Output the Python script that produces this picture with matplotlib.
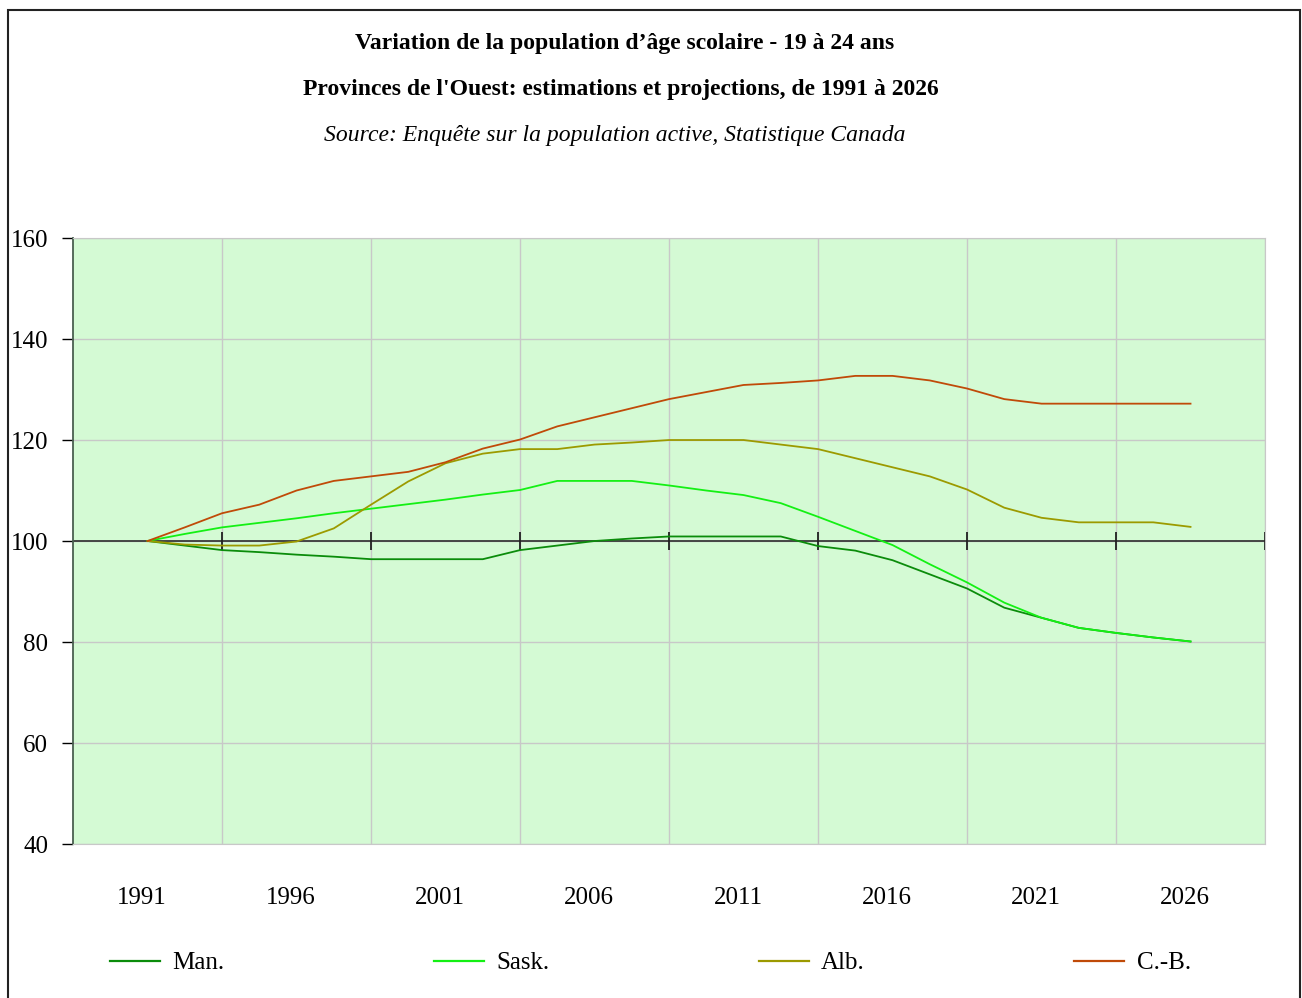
"""
Variation de la population d'âge scolaire (19 à 24 ans), provinces de l'Ouest.
Index 1991 = 100, values read off the original chart.
"""

import matplotlib.pyplot as plt
from matplotlib.patches import Rectangle

plt.rcParams["font.family"] = ["Liberation Serif", "DejaVu Serif"]

# --- data (29 points, 1991 -> 2026) ---
year_labels = ["1991", "1996", "2001", "2006", "2011", "2016", "2021", "2026"]

man = [100, 99.1, 98.2, 97.8, 97.3, 96.9, 96.4, 96.4, 96.4, 96.4,
       98.2, 99.1, 100.0, 100.5, 100.9, 100.9, 100.9, 100.9, 99.0, 98.1,
       96.2, 93.4, 90.6, 86.8, 84.8, 82.8, 81.8, 80.9, 80.1]
sask = [100, 101.4, 102.7, 103.6, 104.5, 105.5, 106.4, 107.3, 108.2, 109.2,
        110.1, 111.9, 111.9, 111.9, 111.0, 110.0, 109.1, 107.5, 104.8, 102.0,
        99.2, 95.4, 91.8, 87.8, 84.8, 82.8, 81.8, 80.9, 80.1]
alb = [100, 99.3, 99.1, 99.1, 99.9, 102.5, 107.2, 111.8, 115.4, 117.3,
       118.2, 118.2, 119.1, 119.5, 120.0, 120.0, 120.0, 119.1, 118.2, 116.4,
       114.6, 112.8, 110.2, 106.6, 104.6, 103.7, 103.7, 103.7, 102.8]
cb = [100, 102.7, 105.5, 107.2, 110.0, 111.9, 112.8, 113.7, 115.6, 118.3,
      120.1, 122.7, 124.5, 126.3, 128.1, 129.5, 130.9, 131.3, 131.8, 132.7,
      132.7, 131.8, 130.2, 128.1, 127.2, 127.2, 127.2, 127.2, 127.2]

series = [
    ("Man.", man, "#0b8c0b"),
    ("Sask.", sask, "#14f014"),
    ("Alb.", alb, "#9c9a00"),
    ("C.-B.", cb, "#c04a08"),
]

x = list(range(len(man)))

fig = plt.figure(figsize=(13.02, 9.98), dpi=100)
ax = fig.add_axes([0.0561, 0.1543, 0.9155, 0.6072])
ax.set_facecolor("#d4fad4")

for name, vals, color in series:
    ax.plot(x, vals, color=color, lw=1.3, label=name, zorder=3)

ax.set_xlim(-2, 30)
ax.set_ylim(40, 160)

# y axis
ax.set_yticks(range(40, 161, 20))
ax.tick_params(axis="y", direction="out", length=8, width=1, colors="black",
               labelsize=18, pad=10)
ax.yaxis.grid(True, color="#c8c8c8", lw=1)

# x axis: labels every 5 years, grid between them
ax.set_xticks([p - 0.15 for p in x[::4]])
ax.set_xticklabels(year_labels, fontsize=18)
ax.tick_params(axis="x", which="major", length=0, pad=31)
grid_pos = [p + 2 for p in x[::4]]
ax.set_xticks(grid_pos, minor=True)
ax.tick_params(axis="x", which="minor", length=0)
ax.xaxis.grid(True, which="minor", color="#c8c8c8", lw=1)
ax.set_axisbelow(True)

# base line at 100 with crossing ticks
ax.axhline(100, color="#3a3a3a", lw=1.3, zorder=2)
ax.vlines(grid_pos, 98.3, 101.7, color="#202020", lw=1.3, zorder=2)

for side in ["top", "right", "bottom"]:
    ax.spines[side].set_color("#c8c8c8")
ax.spines["left"].set_color("#4a5f50")
ax.spines["left"].set_linewidth(1.3)

# titles
fig.text(0.48, 0.956, "Variation de la population d\u2019âge scolaire - 19 à 24 ans",
         ha="center", va="center", fontsize=17, fontweight="bold")
fig.text(0.477, 0.910, "Provinces de l'Ouest: estimations et projections, de 1991 à 2026",
         ha="center", va="center", fontsize=17, fontweight="bold")
fig.text(0.472, 0.864, "Source: Enquête sur la population active, Statistique Canada",
         ha="center", va="center", fontsize=17, style="italic")

# legend along the bottom
leg = fig.legend(loc="center", ncol=4, mode="expand", frameon=False,
                 bbox_to_anchor=(0.0845, 0.015, 0.83, 0.04),
                 fontsize=18, handlelength=2.0, handletextpad=0.5,
                 borderpad=0, borderaxespad=0)
for line in leg.get_lines():
    line.set_linewidth(1.6)

# outer frame (bottom edge falls off the image)
fig.patches.append(Rectangle((8 / 1302, -0.02), 1292 / 1302, 1.01,
                             transform=fig.transFigure, fill=False,
                             edgecolor="#222222", lw=1.5))

fig.savefig("out.png", dpi=100)
